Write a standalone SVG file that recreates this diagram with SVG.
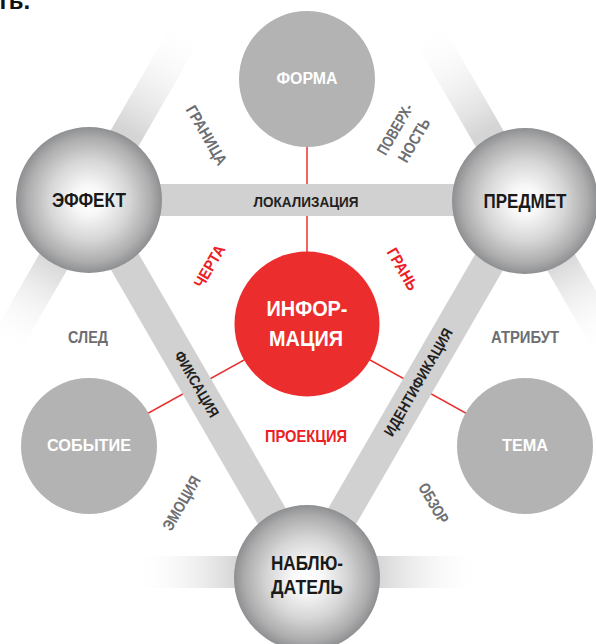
<svg xmlns="http://www.w3.org/2000/svg" width="596" height="644" viewBox="0 0 596 644">
<defs>
<radialGradient id="sphere" cx="0.5" cy="0.5" r="0.5">
 <stop offset="0" stop-color="#ffffff"/>
 <stop offset="0.2" stop-color="#f8f8f8"/>
 <stop offset="0.55" stop-color="#d6d6d6"/>
 <stop offset="0.85" stop-color="#adadae"/>
 <stop offset="1" stop-color="#8e8f91"/>
</radialGradient>
<linearGradient id="fade" x1="0" y1="0" x2="1" y2="0">
 <stop offset="0" stop-color="#d1d1d1"/>
 <stop offset="0.4" stop-color="#d5d5d5"/>
 <stop offset="1" stop-color="#ffffff" stop-opacity="0"/>
</linearGradient>
<style>
.band{stroke:#d1d1d1;stroke-width:32;fill:none}
.link{stroke:#e8302e;stroke-width:1.5;fill:none}
.t{font-family:"Liberation Sans Narrow","Liberation Sans",Arial,sans-serif;font-weight:bold;text-anchor:middle}
.big{font-size:20px;fill:#1a1a1a}
.small{font-size:16px;fill:#ffffff}
.red{font-size:16px;fill:#ec2024}
.gray{font-size:16px;fill:#6d6e71}
.dark{font-size:15px;fill:#231f20}
.sph{fill:url(#sphere)}
.flat{fill:#b3b3b3}
</style>
</defs>

<text x="-3" y="9" style="font-family:'Liberation Sans',Arial,sans-serif;font-weight:bold;font-size:24px;fill:#111">ть.</text>

<g id="outer-bands">
 <g transform="translate(89,200) rotate(-60)"><rect x="0" y="-16" width="200" height="32" fill="url(#fade)"/></g>
 <g transform="translate(89,200) rotate(120)"><rect x="0" y="-16" width="170" height="32" fill="url(#fade)"/></g>
 <g transform="translate(525,200) rotate(-120)"><rect x="0" y="-16" width="200" height="32" fill="url(#fade)"/></g>
 <g transform="translate(525,200) rotate(60)"><rect x="0" y="-16" width="170" height="32" fill="url(#fade)"/></g>
 <g transform="translate(307,572) rotate(180)"><rect x="0" y="-16" width="175" height="32" fill="url(#fade)"/></g>
 <g transform="translate(307,572)"><rect x="0" y="-16" width="175" height="32" fill="url(#fade)"/></g>
</g>

<g id="connectors">
 <line class="link" x1="307" y1="79" x2="307" y2="325"/>
 <line class="link" x1="89" y1="446" x2="307" y2="325"/>
 <line class="link" x1="525" y1="446" x2="307" y2="325"/>
 <line class="band" x1="89" y1="200" x2="525" y2="200"/>
 <line class="band" x1="89" y1="200" x2="307" y2="577"/>
 <line class="band" x1="525" y1="200" x2="307" y2="577"/>
</g>

<g id="forma"><circle class="flat" cx="307" cy="79" r="68"/><text class="t small" x="307" y="84" textLength="61" lengthAdjust="spacingAndGlyphs">ФОРМА</text></g>
<g id="sobytie"><circle class="flat" cx="89" cy="446" r="68"/><text class="t small" x="89" y="451" style="font-size:17px" textLength="84" lengthAdjust="spacingAndGlyphs">СОБЫТИЕ</text></g>
<g id="tema"><circle class="flat" cx="525" cy="446" r="68"/><text class="t small" x="525" y="451" style="font-size:17px" textLength="46" lengthAdjust="spacingAndGlyphs">ТЕМА</text></g>

<g id="effekt"><circle class="sph" cx="89" cy="200" r="73"/><text class="t big" x="89" y="207" textLength="74" lengthAdjust="spacingAndGlyphs">ЭФФЕКТ</text></g>
<g id="predmet"><circle class="sph" cx="525" cy="201" r="73"/><text class="t big" x="525" y="208" textLength="83" lengthAdjust="spacingAndGlyphs">ПРЕДМЕТ</text></g>
<g id="nabludatel"><circle class="sph" cx="307" cy="578" r="73"/>
 <text class="t big" x="307" y="570" textLength="72" lengthAdjust="spacingAndGlyphs">НАБЛЮ-</text>
 <text class="t big" x="307" y="594" textLength="72" lengthAdjust="spacingAndGlyphs">ДАТЕЛЬ</text></g>

<g id="informaciya"><circle cx="307" cy="324" r="72.5" fill="#ec2d2d"/>
 <text class="t" x="307" y="316" style="font-size:22px;fill:#fff" textLength="81" lengthAdjust="spacingAndGlyphs">ИНФОР-</text>
 <text class="t" x="306" y="346" style="font-size:22px;fill:#fff" textLength="74" lengthAdjust="spacingAndGlyphs">МАЦИЯ</text></g>

<g id="labels">
 <text class="t dark" x="306" y="207" textLength="105" lengthAdjust="spacingAndGlyphs">ЛОКАЛИЗАЦИЯ</text>
 <text class="t dark" transform="translate(197,384) rotate(60)" x="0" y="5.5" textLength="74" lengthAdjust="spacingAndGlyphs">ФИКСАЦИЯ</text>
 <text class="t dark" transform="translate(418,382) rotate(-60)" x="0" y="5.5" textLength="122" lengthAdjust="spacingAndGlyphs">ИДЕНТИФИКАЦИЯ</text>
 <text class="t red" transform="translate(209,266) rotate(-60)" x="0" y="6" textLength="46" lengthAdjust="spacingAndGlyphs">ЧЕРТА</text>
 <text class="t red" transform="translate(403,269) rotate(60)" x="0" y="6" textLength="46" lengthAdjust="spacingAndGlyphs">ГРАНЬ</text>
 <text class="t red" x="306" y="442" style="font-size:17px" textLength="82" lengthAdjust="spacingAndGlyphs">ПРОЕКЦИЯ</text>
 <text class="t gray" x="88" y="343" textLength="40" lengthAdjust="spacingAndGlyphs">СЛЕД</text>
 <text class="t gray" x="525" y="343" textLength="68" lengthAdjust="spacingAndGlyphs">АТРИБУТ</text>
 <text class="t gray" transform="translate(207,135) rotate(60)" x="0" y="6" textLength="66" lengthAdjust="spacingAndGlyphs">ГРАНИЦА</text>
 <text class="t gray" transform="translate(181,503) rotate(-60)" x="0" y="6" textLength="60" lengthAdjust="spacingAndGlyphs">ЭМОЦИЯ</text>
 <text class="t gray" transform="translate(434,503) rotate(60)" x="0" y="6" textLength="44" lengthAdjust="spacingAndGlyphs">ОБЗОР</text>
 <g transform="translate(405,135) rotate(-60)">
  <text class="t gray" x="0" y="-6" textLength="56" lengthAdjust="spacingAndGlyphs">ПОВЕРХ-</text>
  <text class="t gray" x="0" y="16" textLength="48" lengthAdjust="spacingAndGlyphs">НОСТЬ</text>
 </g>
</g>
</svg>
